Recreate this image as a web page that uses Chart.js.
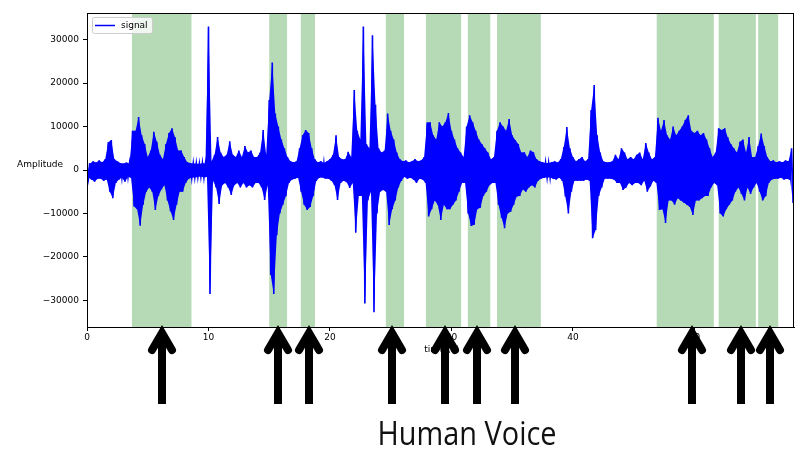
<!DOCTYPE html>
<html>
<head>
<meta charset="utf-8">
<title>signal</title>
<script src="https://cdn.jsdelivr.net/npm/chart.js@4.4.0/dist/chart.umd.min.js"></script>
<style>
  html, body { margin: 0; padding: 0; background: #fff; }
  #chart { display: block; }
</style>
</head>
<body>
<canvas id="chart" width="800" height="449"></canvas>
<script>
// DATOS: envolvente de la señal, un valor cada 0.25 s (una fila = 1 segundo)
const binSeconds = 0.25;

const upperPeaks = [
  1800, 1500, 2000, 1700,
  2200, 1800, 2500, 6400,
  6900, 2500, 2000, 1600,
  1500, 1700, 1500, 9000,
  9000, 12200, 8000, 6000,
  3000, 4500, 8800, 6500,
  3500, 2500, 6000, 8500,
  9600, 7500, 4500, 4500,
  3000, 1800, 1600, 1500,
  1500, 1400, 1600, 1500,
  33000, 2000, 3500, 7600,
  4000, 3000, 3500, 6600,
  3500, 3000, 4500, 3000,
  5500, 4000, 4500, 3000,
  3000, 4000, 9200, 3500,
  16100, 24700, 13000, 10000,
  7000, 5000, 3000, 2000,
  1800, 2000, 5000, 8000,
  9200, 8500, 5000, 2500,
  1800, 2000, 1600, 2000,
  2500, 3500, 8000, 3000,
  2500, 2500, 4200, 3000,
  18400, 9000, 7000, 33000,
  6000, 5000, 31000, 15000,
  5000, 4000, 4500, 13000,
  9000, 7000, 4000, 2500,
  2000, 2200, 1800, 2000,
  2500, 2000, 2200, 3000,
  10900, 11000, 8000, 7000,
  11000, 10000, 11000, 13100,
  9000, 7000, 5000, 4000,
  3000, 10000, 12600, 11000,
  9000, 7000, 6000, 5000,
  4000, 2500, 3000, 9000,
  11000, 10000, 9000, 11700,
  8000, 6900, 6000, 4000,
  4100, 3000, 4500, 4100,
  2500, 2000, 1800, 1600,
  1600, 1800, 2000, 1700,
  2500, 5300, 9900, 5000,
  3000, 2000, 2500, 3000,
  2000, 2500, 13800, 19550,
  8000, 4000, 2000, 1800,
  1800, 2000, 3500, 2500,
  5000, 4000, 2500, 3000,
  2500, 3500, 4000, 2500,
  6200, 4000, 2500, 3000,
  12000, 9000, 11500, 8000,
  7000, 10000, 8000, 9000,
  10000, 11500, 12600, 9000,
  8500, 9000, 8000, 8500,
  7000, 5000, 3000, 4000,
  9600, 9200, 9600, 7500,
  6000, 5000, 4000, 6500,
  7000, 4000, 7600, 3000,
  3000, 5500, 8400, 5500,
  3000, 2000, 2200, 1800,
  2000, 1800, 2200, 2000,
  5000
];

const lowerPeaks = [
  -1800, -2200, -2700, -2000,
  -2000, -2500, -2200, -5000,
  -6500, -3000, -2200, -1800,
  -2700, -1600, -1800, -8400,
  -9000, -12800, -8000, -5000,
  -4000, -5000, -9200, -6000,
  -4500, -3500, -7000, -9500,
  -11500, -8000, -5000, -5000,
  -3000, -2000, -1800, -1700,
  -1600, -1500, -1700, -1600,
  -28500, -2500, -4000, -7800,
  -3500, -3000, -4000, -5750,
  -3500, -3000, -4000, -3000,
  -4000, -3500, -4000, -3000,
  -3000, -4000, -6900, -3500,
  -24150, -28500, -15000, -10000,
  -8000, -6000, -3000, -2200,
  -2000, -1800, -5000, -8000,
  -9200, -8500, -6000, -2500,
  -1800, -1700, -2000, -2000,
  -2500, -3500, -6900, -3000,
  -2500, -2800, -4150, -3000,
  -14400, -6000, -6000, -30700,
  -7000, -5000, -32700, -10000,
  -5000, -4600, -5000, -12650,
  -9000, -7000, -4000, -2500,
  -1600, -2000, -1800, -2200,
  -3000, -2000, -2200, -3000,
  -10700, -9000, -7000, -8000,
  -11500, -8000, -9000, -9000,
  -8000, -7000, -5000, -3000,
  -3000, -10000, -12900, -12600,
  -9000, -8700, -6000, -5000,
  -3500, -3000, -3000, -8000,
  -11000, -13400, -10000, -9600,
  -8000, -6100, -6000, -4500,
  -5000, -4000, -3500, -4000,
  -2500, -2000, -1800, -1700,
  -1700, -2000, -2200, -1800,
  -2500, -6100, -10000, -5000,
  -2500, -2500, -2500, -2500,
  -2200, -2500, -15700, -13800,
  -6000, -4000, -2000, -2000,
  -2000, -2200, -3000, -3000,
  -4600, -4000, -3000, -3500,
  -3000, -3000, -3500, -2500,
  -5000, -3800, -2500, -3000,
  -9200, -9000, -12200, -7000,
  -7000, -8000, -6500, -7000,
  -7500, -8000, -8500, -10350,
  -7000, -7000, -6500, -6000,
  -6000, -4000, -3000, -3500,
  -10000, -10700, -9000, -8000,
  -7000, -5000, -4000, -5500,
  -7000, -4000, -5500, -4000,
  -3000, -5000, -7000, -6000,
  -3000, -2200, -2000, -2000,
  -1800, -2200, -2000, -2300,
  -7600
];

// tramos de voz (segundos)
const voiceStarts = [3.7, 15.0, 17.6, 24.6, 27.9, 31.35, 33.75, 46.9, 52.0, 55.25];
const voiceEnds   = [8.6, 16.47, 18.77, 26.1, 30.8, 33.2, 37.36, 51.6, 55.06, 56.9];

// flechas (segundos)
const arrowTimes = [6.2, 15.75, 18.25, 25.1, 29.5, 32.1, 35.2, 49.8, 53.8, 56.2];

const xTicks = [0, 10, 20, 30, 40, 50];
const yTicks = [-30000, -20000, -10000, 0, 10000, 20000, 30000];

const FONT = "'DejaVu Sans', sans-serif";
const BLUE = '#0000ff';

// puntos: máximo y mínimo de cada intervalo, alternados
const signalPoints = [];
const upperPoints = [];
const lowerPoints = [];
upperPeaks.forEach((hi, i) => {
  const t = i * binSeconds;
  signalPoints.push({ x: t, y: hi });
  signalPoints.push({ x: t + binSeconds / 2, y: lowerPeaks[i] });
  upperPoints.push({ x: t, y: hi });
  lowerPoints.push({ x: t + binSeconds / 2, y: lowerPeaks[i] });
});

// FONDO VERDE
const voicePlugin = {
  id: 'voiceSpans',
  beforeDatasetsDraw(chart) {
    const ctx = chart.ctx;
    const area = chart.chartArea;
    const x = chart.scales.x;
    ctx.save();
    ctx.fillStyle = 'rgba(0,128,0,0.29)';
    voiceStarts.forEach((start, i) => {
      const x0 = x.getPixelForValue(start);
      const x1 = x.getPixelForValue(voiceEnds[i]);
      ctx.fillRect(x0, area.top, x1 - x0, area.bottom - area.top);
    });
    ctx.restore();
  }
};

// MARCO, LEYENDA, ETIQUETAS Y FLECHAS
const decorPlugin = {
  id: 'decor',
  afterDraw(chart) {
    const ctx = chart.ctx;
    const area = chart.chartArea;
    const x = chart.scales.x;
    ctx.save();

    // marco
    ctx.strokeStyle = '#000';
    ctx.lineWidth = 1;
    ctx.strokeRect(area.left + 0.5, area.top + 0.5, area.right - area.left - 1, area.bottom - area.top);

    // leyenda
    ctx.fillStyle = 'rgba(255,255,255,0.8)';
    ctx.strokeStyle = '#cccccc';
    ctx.beginPath();
    ctx.roundRect(area.left + 5.5, area.top + 4.5, 60, 16, 2);
    ctx.fill();
    ctx.stroke();
    ctx.strokeStyle = BLUE;
    ctx.lineWidth = 1.5;
    ctx.beginPath();
    ctx.moveTo(area.left + 8, area.top + 12.5);
    ctx.lineTo(area.left + 28, area.top + 12.5);
    ctx.stroke();
    ctx.fillStyle = '#000';
    ctx.font = '9px ' + FONT;
    ctx.textBaseline = 'middle';
    ctx.textAlign = 'left';
    ctx.fillText(chart.data.datasets[0].label, area.left + 34, area.top + 12.5);

    // etiqueta del eje y (horizontal)
    ctx.fillText('Amplitude', 17, 165);

    // etiqueta del eje x
    ctx.textAlign = 'center';
    ctx.fillText('time (s)', x.getPixelForValue(29.2), 350);

    // flechas
    ctx.strokeStyle = '#000';
    ctx.lineWidth = 8;
    arrowTimes.forEach(t => {
      const px = Math.round(x.getPixelForValue(t));
      ctx.lineCap = 'butt';
      ctx.beginPath();
      ctx.moveTo(px, area.bottom + 8);
      ctx.lineTo(px, area.bottom + 77);
      ctx.stroke();
      ctx.lineCap = 'round';
      ctx.lineJoin = 'miter';
      ctx.beginPath();
      ctx.moveTo(px - 10, area.bottom + 23);
      ctx.lineTo(px, area.bottom + 6);
      ctx.lineTo(px + 10, area.bottom + 23);
      ctx.stroke();
    });

    // texto inferior
    ctx.fillStyle = '#111';
    ctx.font = "32px 'Open Sans', sans-serif";
    ctx.textAlign = 'center';
    ctx.textBaseline = 'alphabetic';
    ctx.fillText('Human Voice', 467, 445, 179);

    ctx.restore();
  }
};

const minus = v => (v < 0 ? '\u2212' + Math.abs(v) : String(v));

new Chart(document.getElementById('chart'), {
  type: 'line',
  data: {
    datasets: [
      {
        label: 'signal',
        data: signalPoints,
        borderColor: BLUE,
        borderWidth: 1.6,
        pointRadius: 0,
        tension: 0,
        fill: false,
        order: 0
      },
      {
        label: 'upper',
        data: upperPoints,
        borderWidth: 0,
        borderColor: 'rgba(0,0,0,0)',
        pointRadius: 0,
        tension: 0,
        fill: false,
        order: 1
      },
      {
        label: 'lower',
        data: lowerPoints,
        borderWidth: 0,
        borderColor: 'rgba(0,0,0,0)',
        backgroundColor: BLUE,
        pointRadius: 0,
        tension: 0,
        fill: '-1',
        order: 2
      }
    ]
  },
  options: {
    responsive: false,
    animation: false,
    events: [],
    layout: { padding: { top: 13, right: 6, left: 0, bottom: 0 } },
    plugins: { legend: { display: false }, tooltip: { enabled: false } },
    scales: {
      x: {
        type: 'linear',
        min: 0,
        max: 58.2,
        afterFit(scale) { scale.height = 122; },
        afterBuildTicks(scale) { scale.ticks = xTicks.map(v => ({ value: v })); },
        grid: { drawOnChartArea: false, drawTicks: true, tickLength: 4, color: '#000' },
        border: { display: true, color: '#000' },
        ticks: { color: '#000', font: { family: FONT, size: 9 }, padding: 1, maxRotation: 0 }
      },
      y: {
        type: 'linear',
        min: -36100,
        max: 36100,
        afterFit(scale) { scale.width = 87; },
        afterBuildTicks(scale) { scale.ticks = yTicks.map(v => ({ value: v })); },
        grid: { drawOnChartArea: false, drawTicks: true, tickLength: 4, color: '#000' },
        border: { display: true, color: '#000' },
        ticks: { color: '#000', font: { family: FONT, size: 9 }, padding: 4, callback: v => minus(v) }
      }
    }
  },
  plugins: [voicePlugin, decorPlugin]
});
</script>
</body>
</html>
